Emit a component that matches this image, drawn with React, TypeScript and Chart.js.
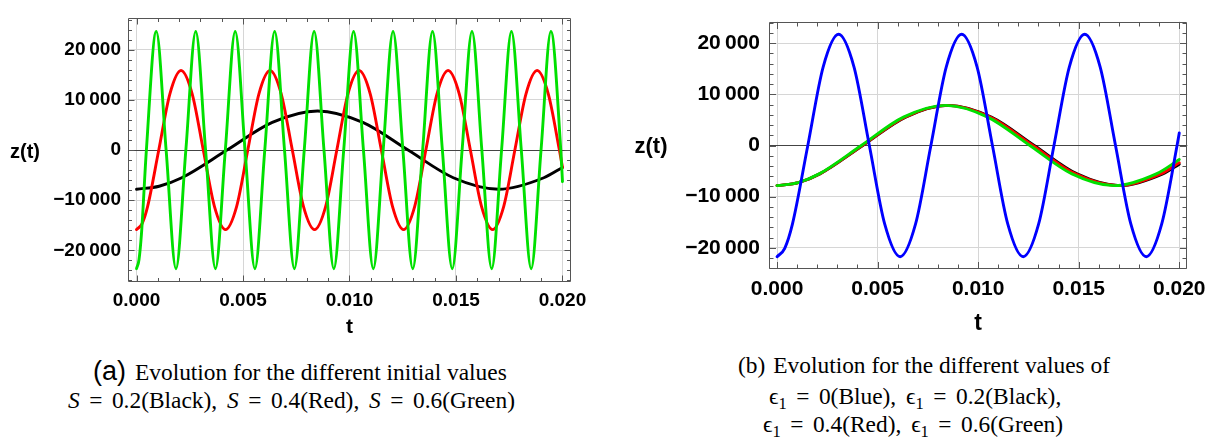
import React, { useEffect, useRef } from 'react';
import { Chart, registerables } from 'chart.js';

Chart.register(...registerables);

// ---------- data (t in seconds, z values) ----------
// Panel (a)
const aBlackT = [0, 0.0010625, 0.002125, 0.00425, 0.006375, 0.0085, 0.010625, 0.01275, 0.014875, 0.017, 0.019125, 0.02];
const aBlackZ = [-7800, -7206, -5515, 0, 5515, 7800, 5515, 0, -5515, -7800, -5515, -3470];

const aRedT = [0, 0.00026125, 0.0005225, 0.001045, 0.0015675, 0.00209, 0.0026125, 0.003135, 0.0036575, 0.00418, 0.0047025,
  0.005225, 0.0057475, 0.00627, 0.0067925, 0.007315, 0.0078375, 0.00836, 0.0088825, 0.009405, 0.0099275,
  0.01045, 0.0109725, 0.011495, 0.0120175, 0.01254, 0.0130625, 0.013585, 0.0141075, 0.01463, 0.0151525,
  0.015675, 0.0161975, 0.01672, 0.0172425, 0.017765, 0.0182875, 0.01881, 0.0193325, 0.019855, 0.02];
const aRedZ = [-15850, -14644, -11210, 0, 11210, 15850, 11210, 0, -11210,
  -15850, -11210, 0, 11210, 15850, 11210, 0, -11210,
  -15850, -11210, 0, 11210, 15850, 11210, 0, -11210,
  -15850, -11210, 0, 11210, 15850, 11210, 0, -11210,
  -15850, -11210, 0, 11210, 15850, 11210, 0, -3420];

const aGreenT = [0, 0.000116, 0.000232, 0.000463, 0.000927, 0.00139, 0.001853, 0.002316, 0.00278, 0.003243, 0.003706, 0.004169,
  0.004633, 0.005096, 0.005559, 0.006022, 0.006486, 0.006949, 0.007412, 0.007875, 0.008339, 0.008802,
  0.009265, 0.009728, 0.010192, 0.010655, 0.011118, 0.011581, 0.012045, 0.012508, 0.012971, 0.013434,
  0.013898, 0.014361, 0.014824, 0.015287, 0.015751, 0.016214, 0.016677, 0.01714, 0.017604, 0.018067,
  0.01853, 0.018993, 0.019457, 0.01992, 0.02];
const aGreenZ = [-23650, -21850, -16720, 0, 23650, 0, -23650, 0, 23650, 0, -23650, 0,
  23650, 0, -23650, 0, 23650, 0, -23650, 0, 23650, 0,
  -23650, 0, 23650, 0, -23650, 0, 23650, 0, -23650, 0,
  23650, 0, -23650, 0, 23650, 0, -23650, 0, 23650, 0,
  -23650, 0, 23650, 0, -6300];

// Panel (b)
const bBlueT = [0, 0.0003825, 0.000765, 0.00153, 0.002295, 0.00306, 0.003825, 0.00459, 0.005355, 0.00612, 0.006885,
  0.00765, 0.008415, 0.00918, 0.009945, 0.01071, 0.011475, 0.01224, 0.013005, 0.01377, 0.014535,
  0.0153, 0.016065, 0.01683, 0.017595, 0.01836, 0.019125, 0.01989, 0.02];
const bBlueZ = [-21750, -20095, -15380, 0, 15380, 21750, 15380, 0, -15380,
  -21750, -15380, 0, 15380, 21750, 15380, 0, -15380,
  -21750, -15380, 0, 15380, 21750, 15380, 0, -15380,
  -21750, -15380, 0, 2460];

const bBlackT = [0, 0.0010656, 0.002131, 0.004263, 0.006394, 0.008525, 0.010656, 0.012788, 0.014919, 0.01705, 0.019181, 0.02];
const bBlackZ = [-7850, -7252, -5550, 0, 5550, 7850, 5550, 0, -5550, -7850, -5550, -3650];

const bRedT = [0, 0.00106, 0.00212, 0.00424, 0.00636, 0.00848, 0.0106, 0.01272, 0.01484, 0.01696, 0.01908, 0.02];
const bRedZ = [-7850, -7252, -5550, 0, 5550, 7850, 5550, 0, -5550, -7850, -5550, -3380];

const bGreenT = [0, 0.0010475, 0.002095, 0.00419, 0.006285, 0.00838, 0.010475, 0.01257, 0.014665, 0.01676, 0.018855, 0.02];
const bGreenZ = [-7850, -7252, -5550, 0, 5550, 7850, 5550, 0, -5550, -7850, -5550, -2730];

// ticks
const xTickValues = [0, 0.005, 0.01, 0.015, 0.02];
const xTickLabels = ['0.000', '0.005', '0.010', '0.015', '0.020'];
const yTickValues = [-20000, -10000, 0, 10000, 20000];
const yTickLabels = ['\u221220\u2009000', '\u221210\u2009000', '0', '10\u2009000', '20\u2009000'];

const xTitle = 't';
const yTitle = 'z(t)';

// ---------- styles ----------
const GREEN = '#00e000';
const RED = '#ff0000';
const BLUE = '#0000ff';
const BLACK = '#000000';
const GRID = '#d6d6d6';
const ZERO = '#444444';
const FRAME = '#555555';
const SANS = '"Liberation Sans", Arial, Helvetica, sans-serif';
const SERIF = '"Liberation Serif", "Times New Roman", "DejaVu Serif", serif';

function pts(t: number[], z: number[]) {
  return t.map((x, i) => ({ x, y: z[i] }));
}

const framePlugin = {
  id: 'frame',
  afterDatasetsDraw(chart: any, _args: any, o: any) {
    const { ctx, chartArea: a } = chart;
    const xs = chart.scales.x;
    const ys = chart.scales.y;
    ctx.save();
    ctx.strokeStyle = o.color;
    ctx.lineWidth = 1;
    const L = Math.round(a.left) + 0.5;
    const R = Math.round(a.right) - 0.5;
    const T = Math.round(a.top) + 0.5;
    const B = Math.round(a.bottom) - 0.5;
    ctx.beginPath();
    ctx.rect(L, T, R - L, B - T);
    for (let i = Math.ceil(xs.min / o.xStep - 1e-9); i * o.xStep <= xs.max + 1e-12; i++) {
      const px = Math.round(xs.getPixelForValue(i * o.xStep)) + 0.5;
      const len = i % 5 === 0 ? o.major : o.minor;
      ctx.moveTo(px, B); ctx.lineTo(px, B - len);
      ctx.moveTo(px, T); ctx.lineTo(px, T + len);
    }
    for (let i = Math.ceil(ys.min / o.yStep - 1e-9); i * o.yStep <= ys.max + 1e-9; i++) {
      const py = Math.round(ys.getPixelForValue(i * o.yStep)) + 0.5;
      const len = i % 5 === 0 ? o.major : o.minor;
      ctx.moveTo(L, py); ctx.lineTo(L + len, py);
      ctx.moveTo(R, py); ctx.lineTo(R - len, py);
    }
    ctx.stroke();
    ctx.fillStyle = '#000';
    ctx.font = `bold ${o.yTitleSize}px ${SANS}`;
    ctx.textAlign = 'left';
    ctx.textBaseline = 'middle';
    ctx.fillText(yTitle, o.yTitleX, ys.getPixelForValue(0) + o.yTitleDy);
    ctx.font = `bold ${o.xTitleSize}px ${SANS}`;
    ctx.textAlign = 'center';
    ctx.fillText(xTitle, (a.left + a.right) / 2, a.bottom + o.xTitleDy);
    ctx.restore();
  },
};

interface Geo {
  padTop: number; padRight: number; yWidth: number; xHeight: number;
  yMin: number; yMax: number; tickSize: number; xPad: number; yPad: number;
  major: number; minor: number; yTitleX: number; yTitleDy: number; yTitleSize: number;
  xTitleDy: number; xTitleSize: number;
}

function makeConfig(datasets: any[], g: Geo): any {
  const tickFont = { family: SANS, size: g.tickSize, weight: 'bold' as const };
  return {
    type: 'line',
    data: { datasets },
    options: {
      animation: false,
      responsive: false,
      maintainAspectRatio: false,
      events: [],
      layout: { padding: { top: g.padTop, right: g.padRight, bottom: 0, left: 0 } },
      elements: {
        point: { radius: 0 },
        line: { borderWidth: 2.9, cubicInterpolationMode: 'monotone', fill: false, borderCapStyle: 'round', borderJoinStyle: 'round' },
      },
      plugins: {
        legend: { display: false },
        tooltip: { enabled: false },
        frame: {
          color: FRAME, xStep: 0.001, yStep: 2000, major: g.major, minor: g.minor,
          yTitleX: g.yTitleX, yTitleDy: g.yTitleDy, yTitleSize: g.yTitleSize,
          xTitleDy: g.xTitleDy, xTitleSize: g.xTitleSize,
        },
      },
      scales: {
        x: {
          type: 'linear',
          min: -0.0004,
          max: 0.0204,
          afterBuildTicks: (s: any) => { s.ticks = xTickValues.map((v) => ({ value: v })); },
          afterFit: (s: any) => { s.height = g.xHeight; },
          ticks: {
            autoSkip: false, maxRotation: 0, minRotation: 0, includeBounds: false,
            color: '#000', font: tickFont, padding: g.xPad,
            callback: (_v: any, i: number) => xTickLabels[i],
          },
          grid: { color: GRID, lineWidth: 1, drawTicks: false },
          border: { display: false },
        },
        y: {
          type: 'linear',
          min: g.yMin,
          max: g.yMax,
          afterBuildTicks: (s: any) => { s.ticks = yTickValues.map((v) => ({ value: v })); },
          afterFit: (s: any) => { s.width = g.yWidth; },
          ticks: {
            autoSkip: false, includeBounds: false,
            color: '#000', font: tickFont, padding: g.yPad,
            callback: (_v: any, i: number) => yTickLabels[i],
          },
          grid: {
            color: (c: any) => (c.tick && c.tick.value === 0 ? ZERO : GRID),
            lineWidth: 1, drawTicks: false,
          },
          border: { display: false },
        },
      },
    },
    plugins: [framePlugin],
  };
}

function ChartCanvas({ make, left, width, height }: { make: () => any; left: number; width: number; height: number }) {
  const ref = useRef<HTMLCanvasElement>(null);
  useEffect(() => {
    const chart = new Chart(ref.current as HTMLCanvasElement, make());
    return () => chart.destroy();
  }, []);
  return (
    <canvas
      ref={ref}
      width={width}
      height={height}
      style={{ position: 'absolute', left, top: 0, width, height }}
    />
  );
}

const makeLeft = () =>
  makeConfig(
    [
      { label: 'S = 0.6', data: pts(aGreenT, aGreenZ), borderColor: GREEN, order: 0 },
      { label: 'S = 0.4', data: pts(aRedT, aRedZ), borderColor: RED, order: 1 },
      { label: 'S = 0.2', data: pts(aBlackT, aBlackZ), borderColor: BLACK, order: 2 },
    ],
    {
      padTop: 9, padRight: 29, yWidth: 128, xHeight: 63, yMin: -26300, yMax: 26250,
      tickSize: 19, xPad: 7, yPad: 7, major: 6, minor: 3.5,
      yTitleX: 10, yTitleDy: 2, yTitleSize: 20, xTitleDy: 45, xTitleSize: 21,
    }
  );

const makeRight = () =>
  makeConfig(
    [
      { label: 'eps = 0', data: pts(bBlueT, bBlueZ), borderColor: BLUE, order: 0 },
      { label: 'eps = 0.6', data: pts(bGreenT, bGreenZ), borderColor: GREEN, order: 1 },
      { label: 'eps = 0.4', data: pts(bRedT, bRedZ), borderColor: RED, order: 2 },
      { label: 'eps = 0.2', data: pts(bBlackT, bBlackZ), borderColor: BLACK, order: 3 },
    ],
    {
      padTop: 9, padRight: 24, yWidth: 149, xHeight: 76.5, yMin: -24050, yMax: 24230,
      tickSize: 21, xPad: 8, yPad: 9, major: 6.5, minor: 4,
      yTitleX: 14.5, yTitleDy: 1, yTitleSize: 22, xTitleDy: 55, xTitleSize: 23,
    }
  );

const capBase: React.CSSProperties = {
  position: 'absolute',
  lineHeight: 0,
  fontFamily: SERIF,
  fontSize: 23.4,
  whiteSpace: 'nowrap',
  color: '#000',
};
const sub: React.CSSProperties = { fontSize: 16.5, position: 'relative', top: 5 };
const eq: React.CSSProperties = { margin: '0 9.5px' };
const comma: React.CSSProperties = { marginRight: 4 };

export default function App() {
  return (
    <div style={{ position: 'absolute', left: 0, top: 0, width: 1214, height: 444, background: '#fff', overflow: 'hidden' }}>
      <ChartCanvas make={makeLeft} left={0} width={600} height={345} />
      <ChartCanvas make={makeRight} left={620} width={594} height={345} />

      <div style={{ ...capBase, left: 93, top: 371 }}>
        <span style={{ fontFamily: SANS, fontSize: 27 }}>(a)</span>
        <span style={{ marginLeft: 9 }}>Evolution for the different initial values</span>
      </div>
      <div style={{ ...capBase, left: 68, top: 400 }}>
        <i>S</i><span style={eq}>=</span>0.2(Black),<span style={comma}> </span><i>S</i><span style={eq}>=</span>0.4(Red),<span style={comma}> </span><i>S</i><span style={eq}>=</span>0.6(Green)
      </div>

      <div style={{ ...capBase, left: 738, top: 364.5 }}>
        (b)<span style={{ marginLeft: 8 }}>Evolution for the different values of</span>
      </div>
      <div style={{ ...capBase, left: 769, top: 395.5 }}>
        {'\u03f5'}<span style={sub}>1</span><span style={eq}>=</span>0(Blue),<span style={comma}> </span>{'\u03f5'}<span style={sub}>1</span><span style={eq}>=</span>0.2(Black),
      </div>
      <div style={{ ...capBase, left: 763, top: 424 }}>
        {'\u03f5'}<span style={sub}>1</span><span style={eq}>=</span>0.4(Red),<span style={comma}> </span>{'\u03f5'}<span style={sub}>1</span><span style={eq}>=</span>0.6(Green)
      </div>
    </div>
  );
}
